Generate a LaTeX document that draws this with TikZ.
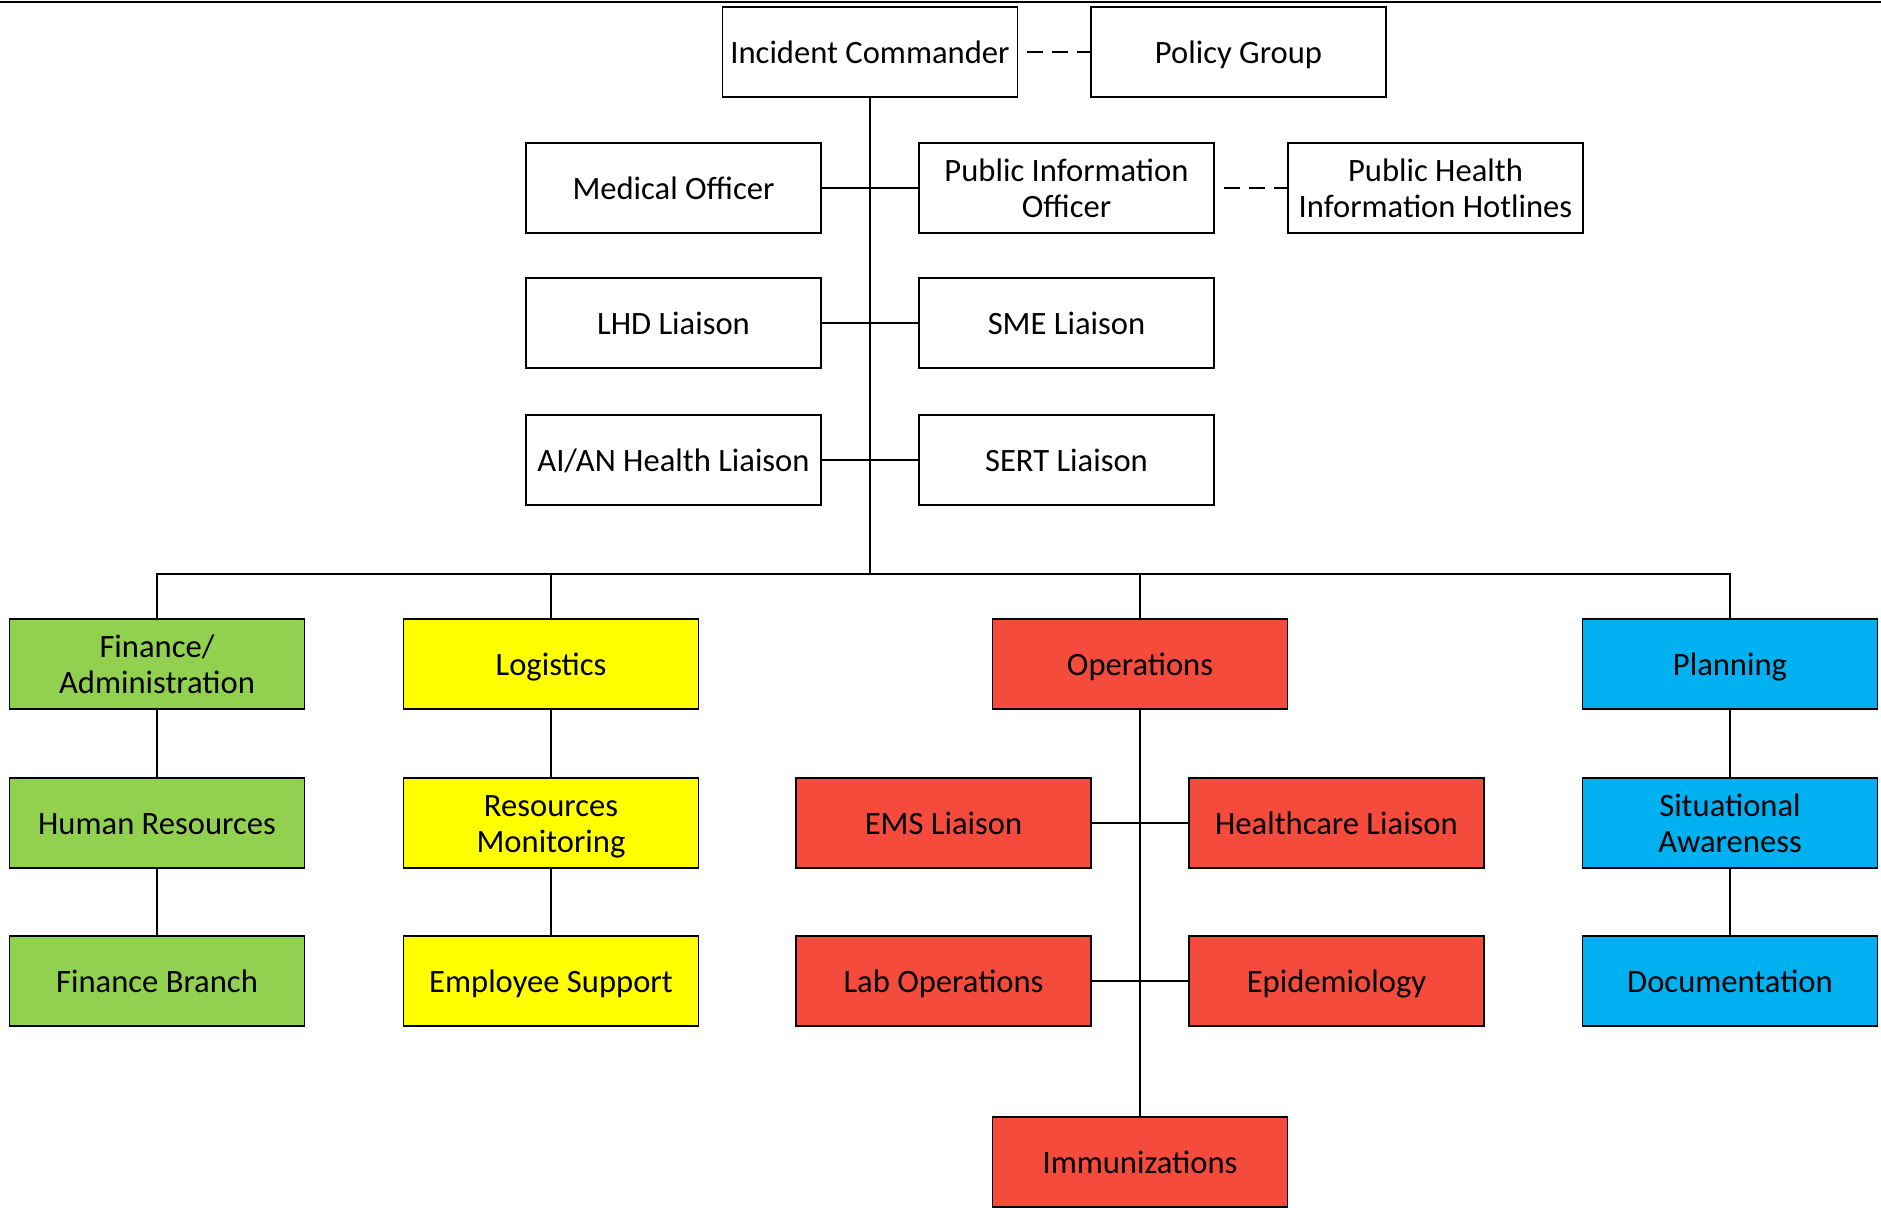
\documentclass[tikz,border=0pt]{standalone}
\usepackage{fontspec}
\setmainfont{Carlito}
\usepackage{xcolor}
\definecolor{admin-green}{HTML}{92D050}
\definecolor{logistics-yellow}{HTML}{FFFF00}
\definecolor{operations-red}{HTML}{F54B3C}
\definecolor{planning-blue}{HTML}{00B0F0}
\tikzset{
    org-box/.style = {draw=black, fill=white, line width=0.9pt, rectangle, minimum width=147.5pt, minimum height=45pt, inner sep=1pt, align=center, text height=11.5pt, text depth=0pt, font=\fontsize{16.3}{17.6}\selectfont},
    two-lines/.style = {text height=29.1pt},
    green-box/.style = {org-box, fill=admin-green},
    yellow-box/.style = {org-box, fill=logistics-yellow},
    red-box/.style = {org-box, fill=operations-red},
    blue-box/.style = {org-box, fill=planning-blue},
    org-line/.style = {line width=0.75pt},
    dashed-line/.style = {line width=0.85pt, dash pattern=on 8pt off 4.5pt, dash phase=8pt},
}

\begin{document}
\begin{tikzpicture}[x=0.5pt, y=-0.5pt]
\useasboundingbox (0,0) rectangle (1881,1207);
\draw[org-line] (0,2) -- (1881,2);
\node [org-box] (commander) at (870,52) {Incident Commander};
\node [org-box] (policy) at (1238.5,52) {Policy Group};
\node [org-box] (medical) at (673.5,188) {Medical Officer};
\node [org-box, two-lines] (pio) at (1066.5,188) {Public Information\\Officer};
\node [org-box, two-lines] (hotlines) at (1435.5,188) {Public Health\\Information Hotlines};
\node [org-box] (lhd) at (673.5,323) {LHD Liaison};
\node [org-box] (sme) at (1066.5,323) {SME Liaison};
\node [org-box] (aian) at (673.5,460) {AI/AN Health Liaison};
\node [org-box] (sert) at (1066.5,460) {SERT Liaison};
\coordinate (bus) at (870,574);

\node [green-box, two-lines] (finance) at (157,664) {Finance/\\Administration};
\node [green-box] (hr) at (157,823) {Human Resources};
\node [green-box] (branch) at (157,981) {Finance Branch};
\node [yellow-box] (logistics) at (551,664) {Logistics};
\node [yellow-box, two-lines] (monitoring) at (551,823) {Resources\\Monitoring};
\node [yellow-box] (support) at (551,981) {Employee Support};
\node [red-box] (operations) at (1140,664) {Operations};
\node [red-box] (ems) at (943.5,823) {EMS Liaison};
\node [red-box] (healthcare) at (1336.5,823) {Healthcare Liaison};
\node [red-box] (lab) at (943.5,981) {Lab Operations};
\node [red-box] (epi) at (1336.5,981) {Epidemiology};
\node [red-box] (immunizations) at (1140,1162) {Immunizations};
\node [blue-box] (planning) at (1730,664) {Planning};
\node [blue-box, two-lines] (awareness) at (1730,823) {Situational\\Awareness};
\node [blue-box] (documentation) at (1730,981) {Documentation};

\draw[dashed-line] (commander) -- (policy);
\draw[dashed-line] (pio) -- (hotlines);
\draw[org-line] (commander) -- (bus);
\draw[org-line] (medical) -- (pio);
\draw[org-line] (lhd) -- (sme);
\draw[org-line] (aian) -- (sert);
\draw[org-line] (finance.north) |- (bus) -| (planning.north);
\draw[org-line] (logistics.north) -- (logistics.north |- bus);
\draw[org-line] (operations.north) -- (operations.north |- bus);
\draw[org-line] (finance) -- (hr) -- (branch);
\draw[org-line] (logistics) -- (monitoring) -- (support);
\draw[org-line] (planning) -- (awareness) -- (documentation);
\draw[org-line] (operations) -- (immunizations);
\draw[org-line] (ems) -- (healthcare);
\draw[org-line] (lab) -- (epi);
\end{tikzpicture}
\end{document}
